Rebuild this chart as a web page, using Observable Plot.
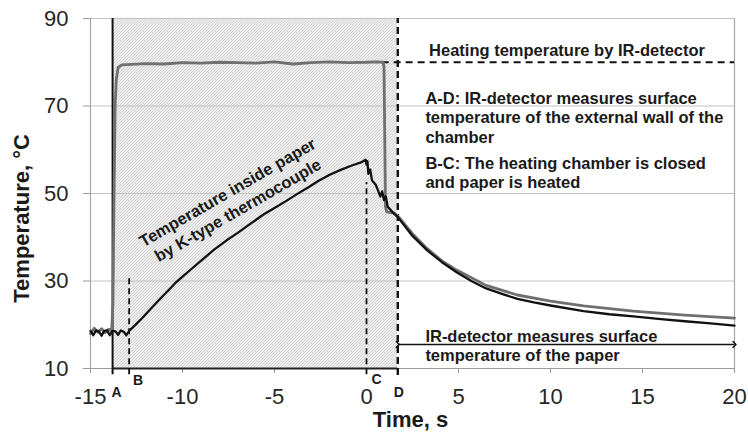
<!DOCTYPE html>
<html>
<head>
<meta charset="utf-8">
<script src="https://cdn.jsdelivr.net/npm/d3@7"></script>
<script src="https://cdn.jsdelivr.net/npm/@observablehq/plot@0.6"></script>
<style>
  html, body { margin: 0; padding: 0; background: #fff; }
  g[aria-label="x-axis"] line, g[aria-label="y-axis"] line,
  g[aria-label="x-axis tick"] path, g[aria-label="y-axis tick"] path { stroke: #9a9a9a; }
</style>
</head>
<body>
<div id="chart"></div>
<script>
// ---- data ----
const xTicks = [-15, -10, -5, 0, 5, 10, 15, 20];
const yTicks = [10, 30, 50, 70, 90];
const xDomain = [-15, 20];
const yDomain = [10, 90];

const eventNames = ["A", "B", "C", "D"];
const eventTimes = [-13.8, -12.9, 0, 1.7];

const heatingTemp = 80;
const heatingStart = 0.85;

// K-type thermocouple (black)
const thermoTime = [-15.0, -14.85, -14.7, -14.55, -14.4, -14.25, -14.1, -13.95, -13.8, -13.65, -13.5, -13.35, -13.2, -13.05, -12.9,
  -12.6, -12.2, -11.8, -11.2, -10.8, -10.4, -10.0, -9.5, -9.0, -8.3, -7.6, -7.0, -6.3, -5.6, -5.0, -4.4, -3.8, -3.2, -2.6, -2.0, -1.4, -0.8, -0.3, -0.05,
  0.0, 0.05, 0.1, 0.2, 0.3, 0.5, 0.6, 0.75, 0.85, 0.95, 1.05, 1.15, 1.3, 1.5, 1.7,
  2.5, 3.3, 4.1, 4.9, 5.7, 6.5, 7.4, 8.2, 9.1, 10.0, 11.8, 13.2, 14.5, 16.0, 17.3, 18.7, 20.0];
const thermoTemp = [18.6, 17.6, 18.7, 18.5, 17.5, 18.6, 18.7, 17.6, 18.6, 18.5, 17.7, 18.7, 18.4, 17.6, 18.6,
  19.8, 21.5, 23.3, 26.0, 27.7, 29.5, 31.0, 32.8, 34.6, 37.1, 39.3, 41.0, 43.1, 45.2, 46.7, 48.2, 49.8, 51.3, 52.9, 54.3, 55.4, 56.4, 57.1, 57.7,
  56.6, 57.4, 54.5, 55.5, 53.0, 52.0, 51.0, 49.3, 50.5, 48.5, 49.3, 47.0, 46.3, 45.4, 44.6,
  40.3, 37.0, 34.3, 32.0, 30.0, 28.3, 27.0, 25.9, 25.1, 24.4, 23.1, 22.4, 21.9, 21.3, 20.8, 20.3, 19.8];

// IR-detector (grey)
const irTime = [-15.0, -14.8, -14.6, -14.4, -14.2, -14.0, -13.85, -13.78, -13.72, -13.66, -13.6, -13.5, -13.3,
  -12.0, -11.0, -10.0, -9.0, -8.0, -7.0, -6.0, -5.0, -4.0, -3.0, -2.0, -1.0, 0.0, 0.5, 0.9, 0.95, 1.0, 1.03, 1.1, 1.5, 1.7,
  2.5, 3.3, 4.1, 4.9, 6.5, 8.2, 10.0, 11.8, 14.5, 17.3, 20.0];
const irTemp = [18.0, 19.2, 18.3, 19.1, 18.2, 19.0, 18.5, 25.0, 50.0, 70.0, 76.0, 78.8, 79.4,
  79.7, 79.6, 79.9, 79.8, 80.0, 79.9, 79.8, 80.1, 79.6, 79.9, 80.1, 79.9, 80.0, 80.1, 80.0, 79.0, 60.0, 47.0, 45.8, 45.5, 44.9,
  40.8, 37.4, 34.6, 32.5, 29.0, 26.8, 25.4, 24.3, 23.1, 22.2, 21.5];

const axisTitleX = "Time, s";
const axisTitleY = "Temperature, °C";
const heatingLabel = "Heating temperature by IR-detector";
const noteAD = "A-D: IR-detector measures surface\ntemperature of the external wall of the\nchamber";
const noteBC = "B-C: The heating chamber is closed\nand paper is heated";
const notePaper = "IR-detector measures surface\ntemperature of the paper";
const curveLabel = "Temperature inside paper\nby K-type thermocouple";

// ---- tables built from the arrays ----
const thermo = thermoTime.map((t, i) => ({t, v: thermoTemp[i]}));
const ir = irTime.map((t, i) => ({t, v: irTemp[i]}));
const [tA, tB, tC, tD] = eventTimes;
const hatchBox = [{x1: tA, x2: tD, y1: yDomain[0], y2: yDomain[1]}];

const FONT = "'Liberation Sans', Arial, Helvetica, sans-serif";
const INK = "#1a1a1a";

const plot = Plot.plot({
  width: 748,
  height: 440,
  marginLeft: 90,
  marginRight: 14,
  marginTop: 18,
  marginBottom: 72,
  style: {fontFamily: FONT, fontSize: "22px", color: "#262626", background: "#fff"},
  x: {domain: xDomain, ticks: xTicks, tickSize: 5, tickPadding: 15, tickFormat: d => String(d), label: null},
  y: {domain: yDomain, ticks: yTicks, tickSize: 7, tickPadding: 15, tickFormat: d => String(d), label: null},
  marks: [
    Plot.rect(hatchBox, {x1: "x1", x2: "x2", y1: "y1", y2: "y2", fill: "url(#hatch)"}),
    Plot.ruleY(yTicks.slice(1), {stroke: "#c2c2c2", strokeWidth: 1}),
    Plot.ruleY([yDomain[0]], {stroke: "#9a9a9a", strokeWidth: 1.2}),
    Plot.ruleX(xDomain, {y1: yDomain[0], y2: yDomain[1], stroke: "#a8a8a8", strokeWidth: 1.2}),
    Plot.ruleY([yDomain[0]], {x1: tA, x2: tD, stroke: "#222", strokeWidth: 2}),
    // event lines
    Plot.ruleX([tA], {y1: 8.6, y2: yDomain[1], stroke: "#111", strokeWidth: 2}),
    Plot.ruleX([tB], {y1: 8.6, y2: 31, stroke: "#111", strokeWidth: 1.8, strokeDasharray: "6,4"}),
    Plot.ruleX([tC], {y1: 8.6, y2: 52.5, stroke: "#111", strokeWidth: 1.8, strokeDasharray: "6,4"}),
    Plot.ruleX([tD], {y1: 8.4, y2: yDomain[1], stroke: "#111", strokeWidth: 2.4, strokeDasharray: "7,4"}),
    // heating temperature dashed line
    Plot.ruleY([heatingTemp], {x1: heatingStart, x2: xDomain[1], stroke: "#111", strokeWidth: 2, strokeDasharray: "7,5"}),
    // curves
    Plot.line(ir, {x: "t", y: "v", stroke: "#6f6f6f", strokeWidth: 2.8}),
    Plot.line(thermo, {x: "t", y: "v", stroke: "#111", strokeWidth: 2.3}),
    // double arrow
    Plot.link([{x1: tD, x2: xDomain[1], y: 15.5}], {x1: "x1", x2: "x2", y1: "y", y2: "y", stroke: "#111", strokeWidth: 1.5, markerStart: "arrow", markerEnd: "arrow"}),
    // event letters
    Plot.text([eventNames[0]], {x: tA, y: yDomain[0], dx: 4, dy: 24, fontSize: 14, fontWeight: "bold", fill: INK}),
    Plot.text([eventNames[1]], {x: tB, y: yDomain[0], dx: 9, dy: 12, fontSize: 14, fontWeight: "bold", fill: INK}),
    Plot.text([eventNames[2]], {x: tC, y: yDomain[0], dx: 10, dy: 11, fontSize: 14, fontWeight: "bold", fill: INK}),
    Plot.text([eventNames[3]], {x: tD, y: yDomain[0], dx: 1, dy: 24.5, fontSize: 14, fontWeight: "bold", fill: INK}),
    // annotations
    Plot.text([heatingLabel], {x: 3.4, y: 84.1, textAnchor: "start", lineAnchor: "top", fontSize: 16.5, fontWeight: "bold", fill: INK}),
    Plot.text([noteAD], {x: 3.2, y: 73.5, textAnchor: "start", lineAnchor: "top", lineHeight: 1.16, fontSize: 16.5, fontWeight: "bold", fill: INK}),
    Plot.text([noteBC], {x: 3.2, y: 58.8, textAnchor: "start", lineAnchor: "top", lineHeight: 1.16, fontSize: 16.5, fontWeight: "bold", fill: INK}),
    Plot.text([notePaper], {x: 3.2, y: 19.2, textAnchor: "start", lineAnchor: "top", lineHeight: 1.16, fontSize: 16.5, fontWeight: "bold", fill: INK}),
    Plot.text([curveLabel], {x: -7.3, y: 48.4, rotate: -30, textAnchor: "middle", lineAnchor: "middle", lineHeight: 1.25, fontSize: 16.5, fontWeight: "bold", fill: INK}),
    // axis titles
    Plot.text([axisTitleY], {x: xDomain[0], y: 44.3, dx: -69, rotate: -90, textAnchor: "middle", lineAnchor: "middle", fontSize: 22, fontWeight: "bold", fill: INK}),
    Plot.text([axisTitleX], {frameAnchor: "bottom", dx: -2, dy: 58, fontSize: 22, fontWeight: "bold", fill: INK})
  ]
});

// hatch pattern for the shaded interval
const ns = "http://www.w3.org/2000/svg";
const defs = document.createElementNS(ns, "defs");
defs.innerHTML = '<pattern id="hatch" patternUnits="userSpaceOnUse" width="3" height="3">' +
  '<rect width="3" height="3" fill="#ececec"></rect>' +
  '<path d="M-1,1 l2,-2 M0,3 l3,-3 M2,4 l2,-2" stroke="#d2d2d2" stroke-width="0.9"></path></pattern>';
plot.insertBefore(defs, plot.firstChild);
document.getElementById("chart").appendChild(plot);
</script>
</body>
</html>
